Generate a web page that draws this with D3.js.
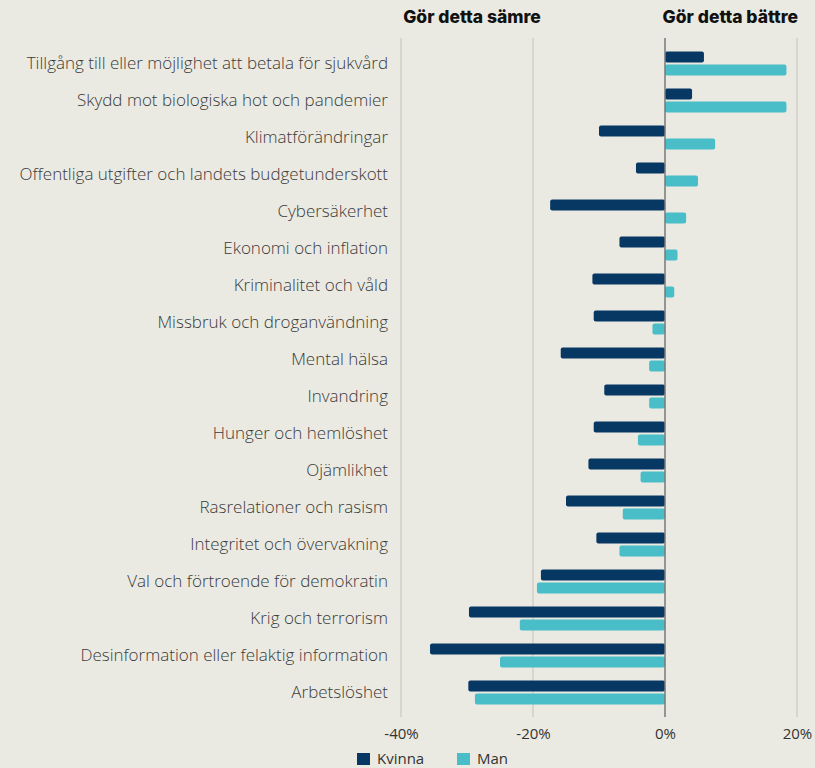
<!DOCTYPE html>
<html>
<head>
<meta charset="utf-8">
<style>
body { margin: 0; background: #ebeae2; }
svg { display: block; }
.label { font: 300 17px "Open Sans", sans-serif; fill: #3a3a3a; }
.tick text { font: 15px "Open Sans", sans-serif; fill: #333; }
.head { font: 800 17.5px "Inter", sans-serif; fill: #111; }
.legend text { font: 15px "Open Sans", sans-serif; fill: #333; }
</style>
</head>
<body>
<script src="https://cdn.jsdelivr.net/npm/d3@7"></script>
<script>

var categories = [
  "Tillgång till eller möjlighet att betala för sjukvård",
  "Skydd mot biologiska hot och pandemier",
  "Klimatförändringar",
  "Offentliga utgifter och landets budgetunderskott",
  "Cybersäkerhet",
  "Ekonomi och inflation",
  "Kriminalitet och våld",
  "Missbruk och droganvändning",
  "Mental hälsa",
  "Invandring",
  "Hunger och hemlöshet",
  "Ojämlikhet",
  "Rasrelationer och rasism",
  "Integritet och övervakning",
  "Val och förtroende för demokratin",
  "Krig och terrorism",
  "Desinformation eller felaktig information",
  "Arbetslöshet"
];

var kvinna = [5.9, 4.1, -10.0, -4.4, -17.4, -6.9, -11.0, -10.8, -15.8, -9.2, -10.8, -11.6, -15.0, -10.4, -18.8, -29.7, -35.6, -29.8];
var man = [18.4, 18.4, 7.6, 5.0, 3.2, 1.9, 1.4, -1.9, -2.4, -2.4, -4.1, -3.7, -6.4, -6.9, -19.4, -22.0, -25.0, -28.8];

var series = ["Kvinna", "Man"];
var colors = ["#073763", "#49bec8"];
var ticks = [-40, -20, 0, 20];

var width = 815, height = 768;

var svg = d3.select("body").append("svg")
    .attr("width", width)
    .attr("height", height);

var x = d3.scaleLinear().domain([-40, 20]).range([401, 797]);

var y = d3.scaleBand().domain(categories).range([45, 711]).paddingInner(0);

var sub = d3.scaleBand().domain(series).range([0, 24]).paddingInner(0.17);

// grid
svg.append("g").selectAll("line")
  .data(ticks.filter(function(t) { return t != 0; }))
  .enter().append("line")
  .attr("x1", function(d) { return x(d); })
  .attr("x2", function(d) { return x(d); })
  .attr("y1", 38)
  .attr("y2", 717)
  .attr("stroke", "#d0cfc7")
  .attr("stroke-width", 1.5);

// bars
var rows = svg.append("g").selectAll("g")
  .data(categories)
  .enter().append("g")
  .attr("transform", function(d) { return "translate(0," + (y(d) + y.bandwidth() / 2 - 12) + ")"; });

rows.each(function(c, i) {
  var vals = [kvinna[i], man[i]];
  d3.select(this).selectAll("rect")
    .data(vals)
    .enter().append("rect")
    .attr("x", function(v) { return Math.min(x(v), x(0)); })
    .attr("width", function(v) { return Math.abs(x(v) - x(0)); })
    .attr("y", function(v, j) { return sub(series[j]); })
    .attr("height", sub.bandwidth())
    .attr("rx", 2)
    .attr("fill", function(v, j) { return colors[j]; });
});

// zero line
svg.append("line")
  .attr("x1", x(0)).attr("x2", x(0))
  .attr("y1", 38).attr("y2", 717)
  .attr("stroke", "#777")
  .attr("stroke-width", 1.5);

// category labels
svg.append("g").selectAll("text")
  .data(categories)
  .enter().append("text")
  .attr("class", "label")
  .attr("x", 388)
  .attr("y", function(d) { return y(d) + y.bandwidth() / 2; })
  .attr("dy", "0.35em")
  .attr("text-anchor", "end")
  .text(function(d) { return d; });

// x axis
var axis = svg.append("g")
  .attr("transform", "translate(0,717)")
  .call(d3.axisBottom(x).tickValues(ticks).tickSize(0).tickPadding(11)
    .tickFormat(function(d) { return d + "%"; }));
axis.select(".domain").remove();

// headers
svg.append("text").attr("class", "head")
  .attr("x", 472).attr("y", 23).attr("text-anchor", "middle")
  .text("Gör detta sämre");
svg.append("text").attr("class", "head")
  .attr("x", 798).attr("y", 23).attr("text-anchor", "end")
  .text("Gör detta bättre");

// legend
var legend = svg.append("g").attr("class", "legend").selectAll("g")
  .data(series)
  .enter().append("g")
  .attr("transform", function(d, i) { return "translate(" + (357 + i * 100) + ",753)"; });
legend.append("rect")
  .attr("width", 13).attr("height", 12)
  .attr("fill", function(d, i) { return colors[i]; });
legend.append("text")
  .attr("x", 20).attr("y", 6).attr("dy", "0.35em")
  .text(function(d) { return d; });

</script>
</body>
</html>
